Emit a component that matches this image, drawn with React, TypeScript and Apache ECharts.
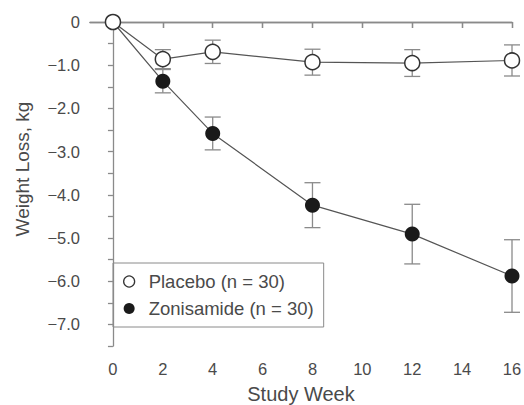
import React, { useEffect, useRef } from "react";
import * as echarts from "echarts";

const weeks = [0, 2, 4, 8, 12, 16];
const placebo = [0, -0.86, -0.69, -0.93, -0.95, -0.89];
const placeboErr = [0, 0.22, 0.27, 0.3, 0.31, 0.36];
const zonisamide = [0, -1.37, -2.58, -4.24, -4.91, -5.88];
const zonisamideErr = [0, 0.27, 0.38, 0.52, 0.69, 0.84];
const xTicks = [0, 2, 4, 6, 8, 10, 12, 14, 16];
const seriesNames = ["Placebo (n = 30)", "Zonisamide (n = 30)"];
const xTitle = "Study Week";
const yTitle = "Weight Loss, kg";

const FONT = "Liberation Sans, Arial, sans-serif";
const AXIS = "#8a8a8a";
const TEXT = "#4a4a4a";

function errSeries(name: string, means: number[], errs: number[]) {
  return {
    type: "custom",
    name: name + "_err",
    z: 1,
    silent: true,
    data: weeks.map((w, i) => [w, means[i], errs[i]]),
    encode: { x: 0, y: 1 },
    renderItem: (params: any, api: any) => {
      const x = api.value(0);
      const m = api.value(1);
      const e = api.value(2);
      if (!e) return { type: "group", children: [] };
      const top = api.coord([x, m + e]);
      const bot = api.coord([x, m - e]);
      const hw = 8;
      const style = { stroke: AXIS, lineWidth: 1.3 };
      return {
        type: "group",
        children: [
          { type: "line", shape: { x1: top[0], y1: top[1], x2: bot[0], y2: bot[1] }, style },
          { type: "line", shape: { x1: top[0] - hw, y1: top[1], x2: top[0] + hw, y2: top[1] }, style },
          { type: "line", shape: { x1: bot[0] - hw, y1: bot[1], x2: bot[0] + hw, y2: bot[1] }, style },
        ],
      };
    },
  };
}

export default function App() {
  const ref = useRef<HTMLDivElement>(null);
  useEffect(() => {
    const chart = echarts.init(ref.current!, null, { renderer: "svg" });
    const yFmt = (v: number) => {
      if (Math.abs(v) < 1e-9) return "0";
      if (Math.abs(v - Math.round(v)) > 1e-6) return "";
      return "\u2212" + Math.abs(v).toFixed(1);
    };
    chart.setOption({
      animation: false,
      textStyle: { fontFamily: FONT },
      grid: { left: 90, right: 12, top: 22, bottom: 59, containLabel: false, outerBoundsMode: "none" },
      graphic: [
        {
          type: "text",
          x: 22,
          y: 169,
          rotation: Math.PI / 2,
          style: {
            text: yTitle,
            fontSize: 19,
            fontFamily: FONT,
            fill: TEXT,
            align: "center",
            verticalAlign: "middle",
          },
        },
      ],
      legend: {
        orient: "vertical",
        left: 113,
        top: 263,
        padding: [9, 10, 9, 10],
        itemGap: 8,
        itemWidth: 11,
        itemHeight: 11,
        icon: "circle",
        borderColor: AXIS,
        borderWidth: 1,
        textStyle: { fontSize: 18.5, color: TEXT, fontFamily: FONT, padding: [0, 0, 0, 9] },
        data: [
          { name: seriesNames[0], itemStyle: { color: "#fff", borderColor: "#333", borderWidth: 1.3 } },
          { name: seriesNames[1], itemStyle: { color: "#1a1a1a" } },
        ],
      },
      xAxis: [
        {
          type: "value",
          min: -0.92,
          max: 16,
          name: xTitle,
          nameLocation: "middle",
          nameGap: 38,
          nameTextStyle: { fontSize: 20, color: TEXT, fontFamily: FONT },
          axisLine: { lineStyle: { color: AXIS, width: 1.3 } },
          axisTick: { show: true, length: 6, lineStyle: { color: AXIS, width: 1.3 }, customValues: xTicks },
          axisLabel: { customValues: xTicks, fontSize: 16.5, color: TEXT, margin: 14, fontFamily: FONT },
          splitLine: { show: false },
        },
        {
          type: "value",
          position: "top",
          min: -0.92,
          max: 16,
          axisLine: { show: true, onZero: false, lineStyle: { color: AXIS, width: 1.3 } },
          axisTick: { show: true, inside: true, length: 6, lineStyle: { color: AXIS, width: 1.3 }, customValues: xTicks },
          axisLabel: { show: false },
          splitLine: { show: false },
        },
      ],
      yAxis: {
        type: "value",
        min: -7.5,
        max: 0,
        interval: 0.5,
        axisLine: { show: true, lineStyle: { color: AXIS, width: 1.3 } },
        axisTick: { show: true, length: 5, lineStyle: { color: AXIS, width: 1.3 } },
        axisLabel: { formatter: yFmt, fontSize: 16.5, color: TEXT, margin: 10, fontFamily: FONT },
        splitLine: { show: false },
      },
      series: [
        errSeries("z", zonisamide, zonisamideErr),
        errSeries("p", placebo, placeboErr),
        {
          type: "line",
          name: seriesNames[1],
          z: 3,
          data: weeks.map((w, i) => [w, zonisamide[i]]),
          symbol: "circle",
          symbolSize: 15,
          lineStyle: { color: "#555", width: 1.2 },
          itemStyle: { color: "#1a1a1a" },
        },
        {
          type: "line",
          name: seriesNames[0],
          z: 4,
          data: weeks.map((w, i) => [w, placebo[i]]),
          symbol: "circle",
          symbolSize: 15,
          lineStyle: { color: "#555", width: 1.2 },
          itemStyle: { color: "#fff", borderColor: "#333", borderWidth: 1.5 },
        },
      ],
    });
    return () => chart.dispose();
  }, []);
  return (
    <div
      ref={ref}
      style={{ position: "absolute", left: 0, top: 0, width: 524, height: 405 }}
    />
  );
}
